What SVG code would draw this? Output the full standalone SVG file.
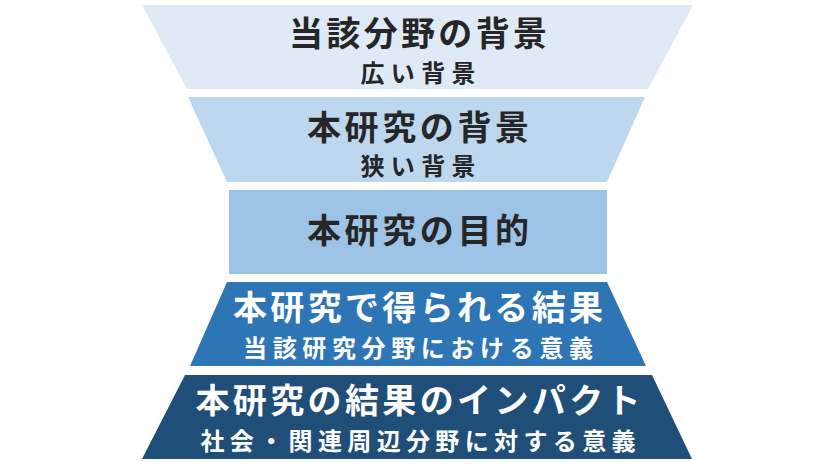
<svg xmlns="http://www.w3.org/2000/svg" width="827" height="467" viewBox="0 0 827 467">
<style>
text{font-family:"Noto Sans CJK JP","Noto Sans",sans-serif;font-weight:bold;text-anchor:middle}
.d{fill:#262626}.w{fill:#ffffff}
.t{font-size:34px}.s{font-size:24px}
</style>
<rect width="827" height="467" fill="#fff"/>
<g id="n1"><polygon points="142,5 693,5 648,89 187,89" fill="#DEEBF7"/>
<text class="d t" x="418" y="46" textLength="258" lengthAdjust="spacing">当該分野の背景</text><text class="d s" x="418" y="82" textLength="115" lengthAdjust="spacing">広い背景</text></g>
<g id="n2"><polygon points="188,97 645,97 607,182 227,182" fill="#BDD7EE"/>
<text class="d t" x="418" y="140" textLength="222" lengthAdjust="spacing">本研究の背景</text><text class="d s" x="418" y="175" textLength="115" lengthAdjust="spacing">狭い背景</text></g>
<g id="n3"><rect x="229" y="190" width="378" height="84" fill="#9DC3E6"/>
<text class="d t" x="418" y="243" textLength="222" lengthAdjust="spacing">本研究の目的</text></g>
<g id="n4"><polygon points="227,282 607,282 646,366 190,366" fill="#2E75B6"/>
<text class="w t" x="418" y="320" textLength="370" lengthAdjust="spacing">本研究で得られる結果</text><text class="w s" x="418" y="357" textLength="350" lengthAdjust="spacing">当該研究分野における意義</text></g>
<g id="n5"><polygon points="185,375 652,375 692,459 142,459" fill="#1F4E79"/>
<text class="w t" x="418" y="413" textLength="445" lengthAdjust="spacing">本研究の結果のインパクト</text><text class="w s" x="418" y="450" textLength="435" lengthAdjust="spacing">社会・関連周辺分野に対する意義</text></g>
<g id="connectors"/>
</svg>
